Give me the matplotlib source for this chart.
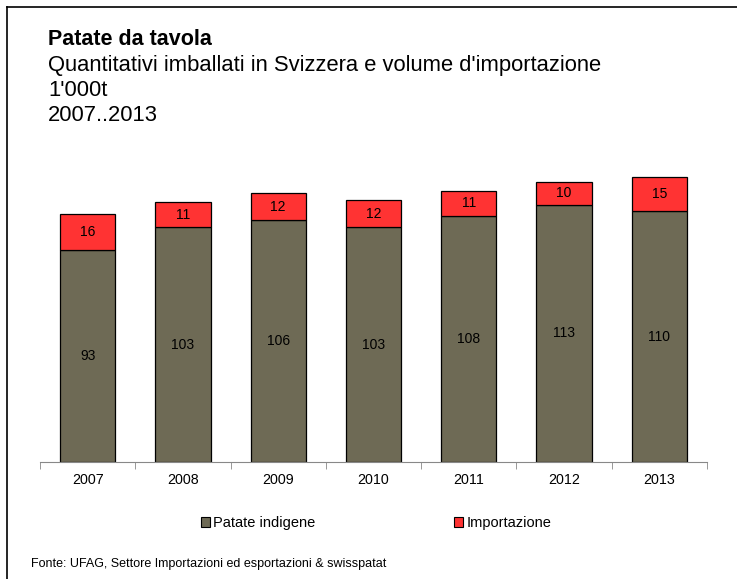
import matplotlib
matplotlib.use("Agg")
import matplotlib.pyplot as plt
from matplotlib.patches import Patch
from matplotlib.lines import Line2D
import numpy as np

years = ["2007", "2008", "2009", "2010", "2011", "2012", "2013"]
indigene = [93, 103, 106, 103, 108, 113, 110]
importazione = [16, 11, 12, 12, 11, 10, 15]

series_names = ["Patate indigene", "Importazione"]
col_ind = "#6E6A55"
col_imp = "#FF3333"

plt.rcParams['font.family'] = ['Liberation Sans', 'DejaVu Sans']

fig = plt.figure(figsize=(7.37, 5.79), dpi=100)
W, H = 737, 579

ax = fig.add_axes([40 / W, 1 - 462 / H, (707 - 40) / W, (462 - 143) / H])
x = np.arange(len(years))
b1 = ax.bar(x, indigene, width=0.58, color=col_ind, edgecolor="black", linewidth=0.9)
b2 = ax.bar(x, importazione, width=0.58, bottom=indigene, color=col_imp, edgecolor="black", linewidth=0.9)

for xi, v in zip(x, indigene):
    ax.text(xi, v / 2, str(v), ha="center", va="center", fontsize=10)
for xi, b, v in zip(x, indigene, importazione):
    ax.text(xi, b + v / 2, str(v), ha="center", va="center", fontsize=10)

ax.set_xlim(-0.5, len(years) - 0.5)
ax.set_ylim(0, 140)
ax.set_xticks(x)
ax.set_xticklabels(years, fontsize=10.3)
ax.set_xticks(np.arange(-0.5, len(years), 1), minor=True)
ax.tick_params(axis="x", which="major", length=0, pad=8)
ax.tick_params(axis="x", which="minor", length=5, color="#888888")
ax.set_yticks([])
for s in ["left", "right", "top"]:
    ax.spines[s].set_visible(False)
ax.spines["bottom"].set_color("#888888")

# titles
fig.text(48 / W, 1 - 45 / H, "Patate da tavola", fontsize=15.5, fontweight="bold", va="baseline")
fig.text(48 / W, 1 - 71 / H, "Quantitativi imballati in Svizzera e volume d'importazione", fontsize=15.8, va="baseline")
fig.text(48 / W, 1 - 96 / H, "1'000t", fontsize=15.8, va="baseline")
fig.text(48 / W, 1 - 121 / H, "2007..2013", fontsize=15.8, va="baseline")

# legend
handles = [Patch(facecolor=col_ind, edgecolor="black", linewidth=0.8),
           Patch(facecolor=col_imp, edgecolor="black", linewidth=0.8)]
fig.legend(handles, series_names, loc="center", bbox_to_anchor=(376 / W, 1 - 523 / H),
           ncol=2, frameon=False, fontsize=10.5, handlelength=0.65, handleheight=0.65,
           handletextpad=0.2, columnspacing=9.5)

fig.text(31 / W, 1 - 567 / H, "Fonte: UFAG, Settore Importazioni ed esportazioni & swisspatat",
         fontsize=9, va="baseline")

# frame lines (top and left)
fig.add_artist(Line2D([7 / W, 7 / W], [0, 1 - 7 / H], color="black", linewidth=1.2, transform=fig.transFigure))
fig.add_artist(Line2D([7 / W, 1], [1 - 7 / H, 1 - 7 / H], color="black", linewidth=1.2, transform=fig.transFigure))

fig.savefig("out.png", dpi=100)
